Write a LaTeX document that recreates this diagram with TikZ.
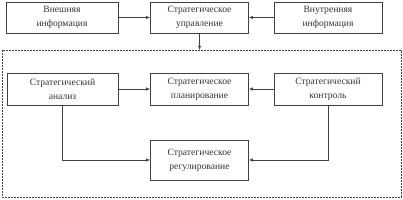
\documentclass[tikz,border=0pt]{standalone}
\usepackage{fontspec}
\setmainfont{Liberation Serif}
\usetikzlibrary{arrows.meta}
\begin{document}
\begin{tikzpicture}[x=1pt,y=-1pt,
  box/.style={draw=black!75, line width=0.6pt, inner sep=0pt, align=center,
    font=\fontsize{9.6}{14}\selectfont, text=black!80},
  arr/.style={draw=black!75, line width=0.6pt, -{Latex[length=4pt,width=3.2pt]}},
  frame/.style={draw=black!75, line width=0.6pt, dash pattern=on 2pt off 1pt}]
\useasboundingbox (0,0) rectangle (403,200);
% top row
\node[box, minimum width=112pt, minimum height=31pt] (ext) at (62,17.5) {Внешняя\\информация};
\node[box, minimum width=98pt, minimum height=31pt] (mgmt) at (199.5,17.5) {Стратегическое\\управление};
\node[box, minimum width=108pt, minimum height=31pt] (int) at (328,17.5) {Внутренняя\\информация};
% dashed frame
\draw[frame] (2,50) rectangle (401,197);
\coordinate (ftop) at (199.5,50);
% second row
\node[box, minimum width=111pt, minimum height=32pt] (anal) at (62.5,89) {Стратегический\\анализ};
\node[box, minimum width=98pt, minimum height=32pt] (plan) at (199.5,89) {Стратегическое\\планирование};
\node[box, minimum width=108pt, minimum height=32pt] (ctrl) at (328,89) {Стратегический\\контроль};
\node[box, minimum width=98pt, minimum height=40pt] (reg) at (199.5,160) {Стратегическое\\регулирование};
% connectors
\draw[arr] (ext.east) -- (mgmt.west);
\draw[arr] (int.west) -- (mgmt.east);
\draw[arr] (mgmt.south) -- (ftop);
\draw[arr] (anal.east) -- (plan.west);
\draw[arr] (ctrl.west) -- (plan.east);
\draw[arr] (anal.south) |- (reg.west);
\draw[arr] (ctrl.south) |- (reg.east);
\end{tikzpicture}
\end{document}
